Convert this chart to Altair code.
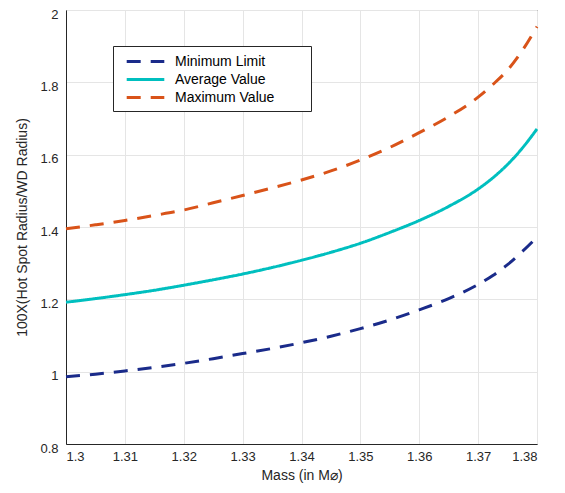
import altair as alt
import pandas as pd

mass = [1.300, 1.305, 1.310, 1.315, 1.320, 1.325, 1.330, 1.335, 1.340, 1.345,
        1.350, 1.355, 1.360, 1.365, 1.370, 1.3725, 1.375, 1.3775, 1.380]
min_limit = [0.986, 0.993, 1.002, 1.012, 1.023, 1.036, 1.050, 1.064, 1.080, 1.098,
             1.119, 1.143, 1.171, 1.202, 1.241, 1.266, 1.296, 1.332, 1.372]
avg_value = [1.192, 1.202, 1.213, 1.225, 1.239, 1.254, 1.270, 1.288, 1.308, 1.330,
             1.355, 1.385, 1.418, 1.457, 1.505, 1.536, 1.573, 1.618, 1.671]
max_value = [1.395, 1.406, 1.418, 1.432, 1.447, 1.467, 1.487, 1.508, 1.530, 1.555,
             1.585, 1.620, 1.661, 1.705, 1.759, 1.794, 1.834, 1.888, 1.954]

series_names = ["Minimum Limit", "Average Value", "Maximum Value"]
series_colors = ["#1a2b8a", "#00bfbf", "#d95319"]
series_dash = [[14, 10], [1, 0], [14, 10]]

rows = []
for name, vals in zip(series_names, [min_limit, avg_value, max_value]):
    for m, v in zip(mass, vals):
        rows.append({"mass": m, "value": v, "series": name})
df = pd.DataFrame(rows)

x_ticks = [1.30, 1.31, 1.32, 1.33, 1.34, 1.35, 1.36, 1.37, 1.38]
y_ticks = [0.8, 1.0, 1.2, 1.4, 1.6, 1.8, 2.0]

font = "Liberation Sans"

pad_label = "\u2800" * 3

legend_cfg = alt.Legend(
    title=None, orient="none", legendX=47, legendY=36,
    strokeColor="#262626", fillColor="white",
    padding=6, symbolOffset=17, symbolType="M-2.35,0H2.35", symbolSize=256,
    symbolStrokeWidth=3, labelFontSize=14, labelLimit=300,
    labelFont=font, labelColor="#000000",
    rowPadding=1, labelOffset=20,
    labelExpr=f"datum.label + '{pad_label}'",
)

chart = alt.Chart(df).mark_line(strokeWidth=3, interpolate="monotone").encode(
    x=alt.X("mass:Q", scale=alt.Scale(domain=[1.3, 1.38], nice=False, zero=False),
            axis=alt.Axis(values=x_ticks, title="Mass (in M\u2300)",
                          labelExpr="format(datum.value, '~g')",
                          labelPadding=6, titlePadding=5)),
    y=alt.Y("value:Q", scale=alt.Scale(domain=[0.8, 2.0], nice=False, zero=False),
            axis=alt.Axis(values=y_ticks, title="100X(Hot Spot Radius/WD Radius)",
                          labelExpr="format(datum.value, '~g')",
                          labelOffset=4, labelPadding=8, titlePadding=10)),
    color=alt.Color("series:N", sort=series_names,
                    scale=alt.Scale(domain=series_names, range=series_colors),
                    legend=legend_cfg),
    strokeDash=alt.StrokeDash("series:N", sort=series_names,
                              scale=alt.Scale(domain=series_names, range=series_dash),
                              legend=legend_cfg),
).properties(
    width=471, height=434,
    autosize=alt.AutoSizeParams(type="none"),
    padding={"left": 58, "top": 2, "right": 20, "bottom": 40},
).configure_view(
    stroke="#262626", strokeWidth=1
).configure_axis(
    domainColor="#262626", tickColor="#262626", gridColor="#e5e5e5",
    labelFont=font, titleFont=font, labelFontSize=13, titleFontSize=14,
    labelColor="#262626", titleColor="#262626", titleFontWeight="normal",
    ticks=False,
)

chart.save("out.html", embed_options={"renderer": "svg", "actions": False})
